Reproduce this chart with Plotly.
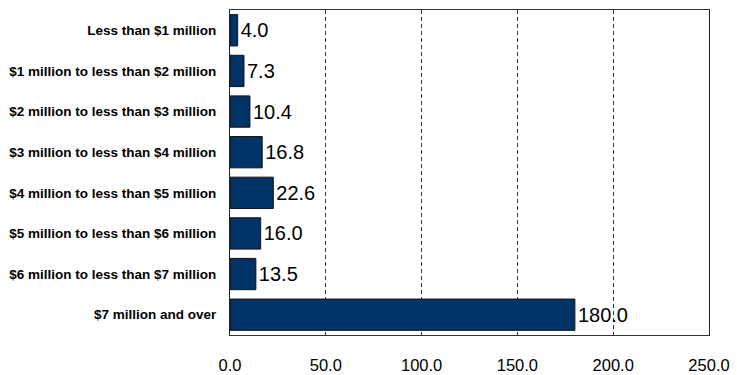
import plotly.graph_objects as go

categories = [
    "Less than $1 million",
    "$1 million to less than $2 million",
    "$2 million to less than $3 million",
    "$3 million to less than $4 million",
    "$4 million to less than $5 million",
    "$5 million to less than $6 million",
    "$6 million to less than $7 million",
    "$7 million and over",
]
values = [4.0, 7.3, 10.4, 16.8, 22.6, 16.0, 13.5, 180.0]
tick_vals = [0, 50, 100, 150, 200, 250]

fig = go.Figure(go.Bar(
    y=categories,
    x=values,
    orientation="h",
    marker=dict(color="#003366", line=dict(color="#111111", width=1)),
    text=[f"{v:.1f}" for v in values],
    textposition="outside",
    textfont=dict(family="Arial, Liberation Sans", size=20, color="black"),
    constraintext="none",
    cliponaxis=False,
    width=0.77,
))

fig.update_layout(
    width=737, height=375,
    margin=dict(l=230, r=28, t=10, b=40),
    plot_bgcolor="white",
    paper_bgcolor="white",
    showlegend=False,
    font=dict(family="Arial, Liberation Sans", color="black"),
)
fig.update_xaxes(
    range=[0, 250],
    tickvals=tick_vals,
    tickformat=".1f",
    tickfont=dict(size=16.5, color="black"),
    showgrid=True,
    gridcolor="#333333",
    griddash="4px,3px",
    gridwidth=1,
    showline=True,
    linecolor="#333333",
    linewidth=1,
    mirror=True,
    zeroline=False,
    ticks="",
    ticklabelstandoff=15,
    automargin=False,
)
fig.update_yaxes(
    autorange="reversed",
    tickfont=dict(size=13.5, color="black", family="Arial, Liberation Sans", weight="bold"),
    showline=True,
    linecolor="#222222",
    linewidth=1,
    mirror=True,
    ticks="",
    ticklabelstandoff=10,
    automargin=False,
)

fig.write_html(
    "out.html",
    config={"displayModeBar": False},
    post_script="document.body.style.margin='0';document.body.style.overflow='hidden';",
)
